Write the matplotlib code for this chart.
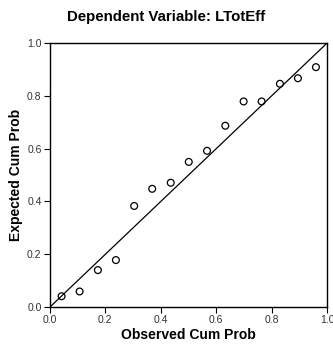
import numpy as np
import matplotlib.pyplot as plt

observed = [0.042, 0.107, 0.173, 0.238, 0.304, 0.369, 0.436, 0.501,
            0.567, 0.633, 0.699, 0.764, 0.830, 0.895, 0.960]
expected = [0.041, 0.059, 0.140, 0.178, 0.383, 0.448, 0.471, 0.550,
            0.592, 0.687, 0.779, 0.779, 0.846, 0.867, 0.909]
ticks = [0.0, 0.2, 0.4, 0.6, 0.8, 1.0]

plt.rcParams['font.family'] = ['Liberation Sans', 'DejaVu Sans']

fig = plt.figure(figsize=(3.33, 3.45), dpi=100)
ax = fig.add_axes([0.150, 0.110, 0.832, 0.765])

ax.plot([0, 1], [0, 1], color='black', lw=0.9)
ax.scatter(observed, expected, s=24, facecolors='none', edgecolors='black', linewidths=0.9, zorder=3)

ax.set_xlim(0, 1)
ax.set_ylim(0, 1)
ax.set_xticks(ticks)
ax.set_yticks(ticks)
ax.set_xticklabels(["%.1f" % t for t in ticks])
ax.set_yticklabels(["%.1f" % t for t in ticks])
ax.tick_params(direction='out', length=4, width=0.8, labelsize=7.5, labelcolor='#333333', pad=2)
for s in ax.spines.values():
    s.set_linewidth(1.0)

ax.set_xlabel("Observed Cum Prob", fontsize=10, fontweight='bold', labelpad=2)
ax.set_ylabel("Expected Cum Prob", fontsize=10, fontweight='bold', labelpad=3)
fig.text(0.5, 0.95, "Dependent Variable: LTotEff", ha='center', va='center', fontsize=10.8, fontweight='bold')

fig.savefig('out.png', dpi=100)
